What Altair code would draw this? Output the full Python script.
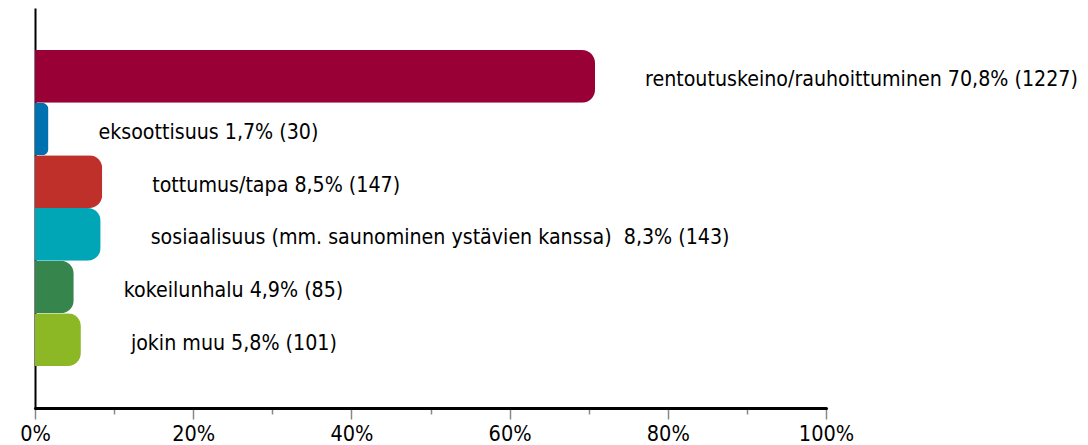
import altair as alt
import pandas as pd

categories = [
    "rentoutuskeino/rauhoittuminen",
    "eksoottisuus",
    "tottumus/tapa",
    "sosiaalisuus (mm. saunominen ystävien kanssa)\u00a0",
    "kokeilunhalu",
    "jokin muu",
]
percents = [70.8, 1.7, 8.5, 8.3, 4.9, 5.8]
counts = [1227, 30, 147, 143, 85, 101]
colors = ["#990035", "#0071b0", "#c0302a", "#00a6b6", "#36854c", "#8cb826"]

labels = [
    f"{c} {str(p).replace('.', ',')}% ({n})"
    for c, p, n in zip(categories, percents, counts)
]

df = pd.DataFrame({"cat": categories, "pct": percents, "label": labels})

FONT = "DejaVu Sans Condensed"

y_enc = alt.Y(
    "cat:N",
    sort=categories,
    scale=alt.Scale(paddingInner=0, paddingOuter=0.8),
    axis=alt.Axis(
        labels=False, ticks=False, title=None,
        domainColor="black", domainWidth=2,
    ),
)

x_enc = alt.X(
    "pct:Q",
    scale=alt.Scale(domain=[0, 100], nice=False),
    axis=alt.Axis(
        title=None,
        values=list(range(0, 101, 5)),
        labelExpr="datum.value % 20 === 0 ? datum.value + '%' : ''",
        tickSize={"condition": {"test": "datum.value % 20 === 0", "value": 11}, "value": 6},
        tickColor="#888888",
        tickWidth=1.5,
        domainColor="black",
        domainWidth=3,
        domainCap="round",
        grid=False,
        labelFont=FONT,
        labelFontSize=21.5,
        labelColor="black",
        labelPadding=4,
        labelFlush=False,
    ),
)

bars = alt.Chart(df).mark_bar(cornerRadiusEnd=13).encode(
    x=x_enc,
    y=y_enc,
    color=alt.Color("cat:N", scale=alt.Scale(domain=categories, range=colors), legend=None),
)

text = alt.Chart(df).mark_text(
    align="left", baseline="middle", dx=50, dy=4,
    font=FONT, fontSize=21.2, color="black",
).encode(
    x="pct:Q",
    y=alt.Y("cat:N", sort=categories),
    text="label:N",
)

chart = (
    alt.layer(bars, text)
    .properties(
        width=791,
        height=400,
        autosize=alt.AutoSizeParams(type="none"),
        padding={"left": 27, "top": 0, "right": 254, "bottom": 36},
    )
    .configure_view(stroke=None)
)

chart.save("out.html", embed_options={"renderer": "svg", "actions": False})
